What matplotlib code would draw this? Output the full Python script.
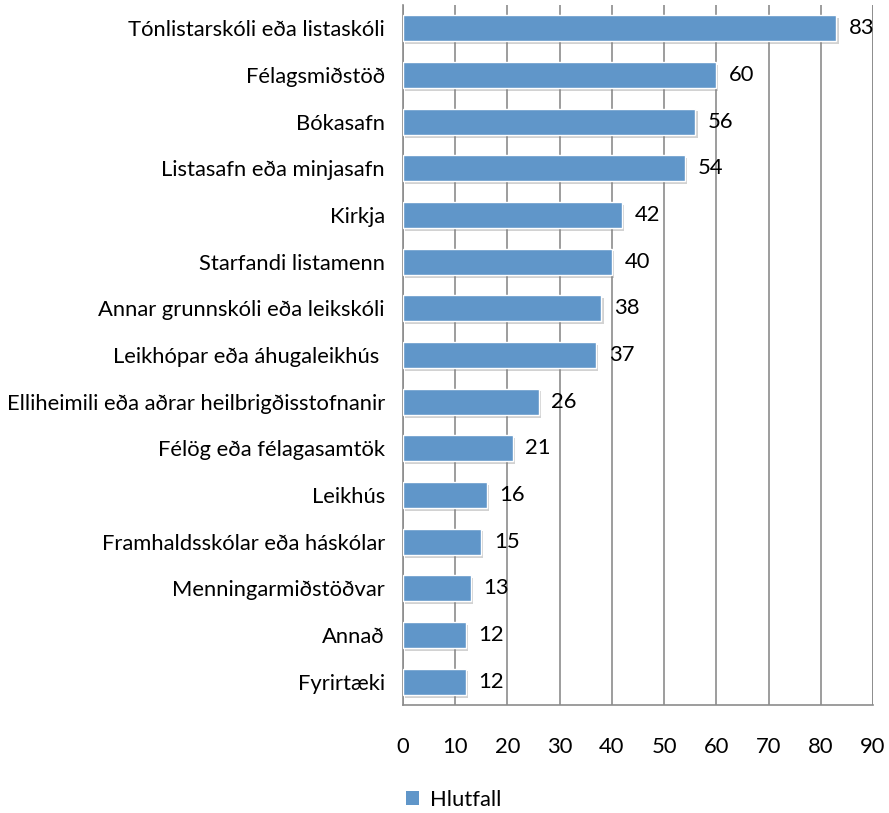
import matplotlib
matplotlib.use("Agg")
import matplotlib.pyplot as plt
import matplotlib.patheffects as pe
from matplotlib.patches import Patch

plt.rcParams['font.family'] = ['Lato', 'DejaVu Sans']

# ---------------------------
# Gögn
# ---------------------------
categories = [
    "Tónlistarskóli eða listaskóli",
    "Félagsmiðstöð",
    "Bókasafn",
    "Listasafn eða minjasafn",
    "Kirkja",
    "Starfandi listamenn",
    "Annar grunnskóli eða leikskóli",
    "Leikhópar eða áhugaleikhús ",
    "Elliheimili eða aðrar heilbrigðisstofnanir",
    "Félög eða félagasamtök",
    "Leikhús",
    "Framhaldsskólar eða háskólar",
    "Menningarmiðstöðvar",
    "Annað",
    "Fyrirtæki",
]
values = [83, 60, 56, 54, 42, 40, 38, 37, 26, 21, 16, 15, 13, 12, 12]
x_ticks = [0, 10, 20, 30, 40, 50, 60, 70, 80, 90]
series_name = "Hlutfall"

FS = 15.8
BAR_COLOR = "#6096c9"

# ---------------------------
# Teikning
# ---------------------------
fig = plt.figure(figsize=(8.89, 8.13), dpi=100)
ax = fig.add_axes([0.4533, 0.1328, 0.5287, 0.861])

y = list(range(len(categories)))
bars = ax.barh(y, values, height=0.56, color=BAR_COLOR, edgecolor="white",
               linewidth=1.0, zorder=3)
for b in bars:
    b.set_path_effects([pe.SimplePatchShadow(offset=(1.5, -2), shadow_rgbFace="#808080", alpha=0.35),
                        pe.Normal()])

for yi, v in zip(y, values):
    ax.text(v + 2.4, yi, str(v), va="center", ha="left", fontsize=FS, color="black", zorder=4)

ax.set_ylim(len(categories) - 0.5, -0.5)
ax.set_xlim(0, 90)
ax.set_xticks(x_ticks)
ax.set_yticks(y)
ax.set_yticklabels(categories, fontsize=FS)
ax.tick_params(axis="x", length=0, pad=23, labelsize=FS)
ax.tick_params(axis="y", length=0, pad=13)

ax.xaxis.grid(True, color="#8c8c8c", linewidth=1.2, zorder=0)
ax.set_axisbelow(True)
ax.axvline(90, color="#8c8c8c", linewidth=1.2, zorder=0)
for s in ["top", "right"]:
    ax.spines[s].set_visible(False)
for s in ["left", "bottom"]:
    ax.spines[s].set_color("#8c8c8c")
    ax.spines[s].set_linewidth(1.2)

handle = Patch(facecolor=BAR_COLOR, edgecolor="none")
fig.legend(handles=[handle], labels=[series_name], loc="center left",
           bbox_to_anchor=(0.457, 0.016), frameon=False, fontsize=FS,
           handlelength=0.6, handleheight=0.6, handletextpad=0.5,
           borderpad=0, borderaxespad=0)

fig.savefig("out.png", dpi=100)
